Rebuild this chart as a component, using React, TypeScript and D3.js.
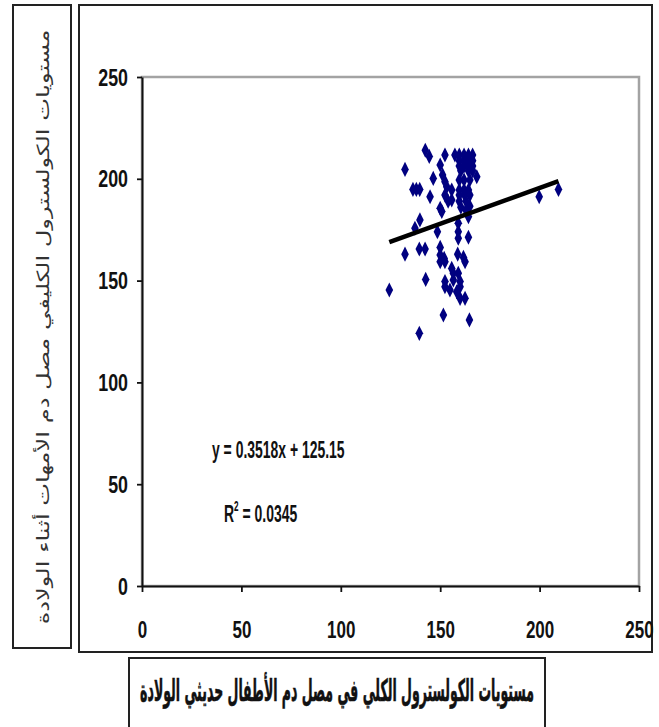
import React, { useEffect, useRef } from 'react';
import * as d3 from 'd3';

// newborn (x) vs maternal (y) serum cholesterol
const infantChol = [
  142.5, 144.5, 152.4, 157.4, 159.6, 162, 164.2, 166.3, 159.6, 162, 164.2, 166.3,
  159.6, 162, 164.2, 166.3, 150, 132.3, 160.4, 164.2, 166.3, 146.5, 151.2, 168.4,
  159.6, 162, 164.9, 152.4, 153.3, 136.3, 138, 139.7, 144.9, 155.8, 159.6, 162,
  164.2, 152.4, 159.6, 162.3, 164.9, 154, 155.8, 159.6, 163, 150, 150.8, 160.4,
  164.9, 163, 139.8, 164.2, 159.1, 137.3, 148.6, 159.1, 159.1, 164.2, 132.3, 139.5,
  142.4, 150, 150, 152, 150, 152.4, 158.8, 161.7, 162.5, 155.8, 156.6, 142.7,
  152.4, 152.4, 154.9, 156.6, 159.1, 160, 160, 158.3, 160, 162.5, 124.4, 151.6,
  164.7, 139.5, 199.8, 209.5,
];
const maternalChol = [
  214, 211, 211.7, 211.7, 211.7, 211.7, 211.7, 211.7, 208.9, 208.9, 208.9, 208.9,
  206.3, 206.3, 206.3, 206.3, 206.8, 204.6, 204, 204, 204, 200.2, 201.9, 201,
  199.4, 199.4, 199.4, 198.6, 196.1, 194.8, 194.8, 194.8, 191.2, 194.5, 194.5, 194.5,
  194.5, 192, 192, 192, 192, 189, 189.6, 189, 189, 185.5, 184, 186,
  186.5, 184.5, 179.8, 181.4, 178.2, 175.7, 174, 174, 170.8, 171.3, 163, 165.5,
  165.5, 166.3, 162.6, 160.9, 159.3, 159.3, 163, 161.4, 159.3, 156, 153.6, 150.6,
  149.5, 147, 145.4, 150.3, 153.6, 149.5, 147, 144.5, 141.3, 141.3, 145.4, 133.1,
  130.7, 124.1, 191.2, 194.8,
];
const xTicks = [0, 50, 100, 150, 200, 250];
const yTicks = [0, 50, 100, 150, 200, 250];
const slope = 0.3518;
const intercept = 125.15;
const equationLabel = 'y = 0.3518x + 125.15';
const rSquaredValue = ' = 0.0345';
const xTitle = 'مستويات الكولسترول الكلي في مصل دم الأطفال حديثي الولادة';
const yTitle = 'مستويات الكولسترول الكليفي مصل دم الأمهات أثناء الولادة';

const W = 659;
const H = 727;
const plot = { left: 142, right: 639, top: 77, bottom: 586 };
const numFont = '"Liberation Sans Narrow", "Liberation Sans", Arial, sans-serif';

export default function App() {
  const svgRef = useRef<SVGSVGElement>(null);

  useEffect(() => {
    const svg = d3.select(svgRef.current);
    svg.selectAll('*').remove();

    const x = d3.scaleLinear().domain([0, 250]).range([plot.left, plot.right]);
    const y = d3.scaleLinear().domain([0, 250]).range([plot.bottom, plot.top]);

    // outer frames
    svg.append('rect').attr('x', 13).attr('y', 5).attr('width', 58).attr('height', 643)
      .attr('fill', 'white').attr('stroke', '#222').attr('stroke-width', 2);
    svg.append('rect').attr('x', 79).attr('y', 5).attr('width', 573).attr('height', 647)
      .attr('fill', 'white').attr('stroke', '#222').attr('stroke-width', 2);
    svg.append('rect').attr('x', 129).attr('y', 658).attr('width', 416).attr('height', 90)
      .attr('fill', 'white').attr('stroke', '#222').attr('stroke-width', 2);

    // plot area border (grey top/right)
    svg.append('rect')
      .attr('x', plot.left).attr('y', plot.top)
      .attr('width', plot.right - plot.left).attr('height', plot.bottom - plot.top)
      .attr('fill', 'none').attr('stroke', '#a3a3a3').attr('stroke-width', 2.5);

    // axes
    const xAxis = d3.axisBottom(x).tickValues(xTicks).tickSize(6).tickSizeOuter(0);
    const yAxis = d3.axisLeft(y).tickValues(yTicks).tickSize(5).tickSizeOuter(0);

    svg.append('g')
      .attr('transform', `translate(0, ${plot.bottom})`)
      .call(xAxis)
      .call(g => g.select('.domain').attr('stroke', '#111').attr('stroke-width', 2))
      .call(g => g.selectAll('.tick line').attr('stroke', '#111').attr('stroke-width', 1.8))
      .call(g => g.selectAll('.tick text')
        .attr('y', null).attr('dy', null)
        .attr('transform', 'translate(0, 52) scale(1, 1.45)')
        .attr('fill', '#111')
        .attr('font-family', numFont)
        .attr('font-size', 17)
        .attr('font-weight', 'bold'));

    svg.append('g')
      .attr('transform', `translate(${plot.left}, 0)`)
      .call(yAxis)
      .call(g => g.select('.domain').attr('stroke', '#111').attr('stroke-width', 2))
      .call(g => g.selectAll('.tick line').attr('stroke', '#111').attr('stroke-width', 1.8))
      .call(g => g.selectAll('.tick text')
        .attr('x', null).attr('dy', null)
        .attr('transform', 'translate(-14, 8) scale(1.05, 1.45)')
        .attr('text-anchor', 'end')
        .attr('fill', '#111')
        .attr('font-family', numFont)
        .attr('font-size', 17)
        .attr('font-weight', 'bold'));

    // scatter points
    const pts = infantChol.map((v, i) => [v, maternalChol[i]]);
    const diamond = d3.symbol(d3.symbolDiamond, 50);
    svg.append('g')
      .selectAll('path')
      .data(pts)
      .enter()
      .append('path')
      .attr('d', diamond)
      .attr('transform', d => `translate(${x(d[0])}, ${y(d[1])}) scale(1, 1.15)`)
      .attr('fill', '#000080');

    // linear trend line
    const xExt = d3.extent(infantChol) as [number, number];
    const line = d3.line<number>().x(d => x(d)).y(d => y(slope * d + intercept));
    svg.append('path')
      .datum(xExt)
      .attr('d', line)
      .attr('fill', 'none')
      .attr('stroke', '#000')
      .attr('stroke-width', 4.5);

    // equation + R²
    svg.append('text')
      .attr('transform', 'translate(212, 458) scale(0.82, 1.4)')
      .attr('font-family', numFont).attr('font-size', 17).attr('font-weight', 'bold')
      .attr('fill', '#111')
      .text(equationLabel);

    const r2 = svg.append('text')
      .attr('transform', 'translate(224, 522) scale(0.82, 1.4)')
      .attr('font-family', numFont).attr('font-size', 17).attr('font-weight', 'bold')
      .attr('fill', '#111');
    r2.append('tspan').text('R');
    r2.append('tspan').attr('dy', -8).attr('font-size', 10).text('2');
    r2.append('tspan').attr('dy', 8).text(rSquaredValue);

    // axis titles, squeezed to the box length after measuring
    const yt = svg.append('text')
      .attr('text-anchor', 'middle')
      .attr('font-family', '"DejaVu Sans", sans-serif')
      .attr('font-size', 16)
      .attr('fill', '#333')
      .text(yTitle);
    const ytLen = (yt.node() as SVGTextElement).getComputedTextLength() || 595;
    yt.attr('transform', `translate(49, 327) rotate(-90) scale(${595 / ytLen}, 1.05)`);

    const xt = svg.append('text')
      .attr('text-anchor', 'middle')
      .attr('font-family', '"DejaVu Sans", sans-serif')
      .attr('font-size', 19)
      .attr('font-weight', 'bold')
      .attr('fill', '#111')
      .attr('stroke', '#111')
      .attr('stroke-width', 0.4)
      .text(xTitle);
    const xtLen = (xt.node() as SVGTextElement).getComputedTextLength() || 394;
    xt.attr('transform', `translate(337, 701) scale(${394 / xtLen}, 1.6)`);
  }, []);

  return (
    <svg
      ref={svgRef}
      width={W}
      height={H}
      style={{ position: 'absolute', left: 0, top: 0, background: '#fff' }}
    />
  );
}
